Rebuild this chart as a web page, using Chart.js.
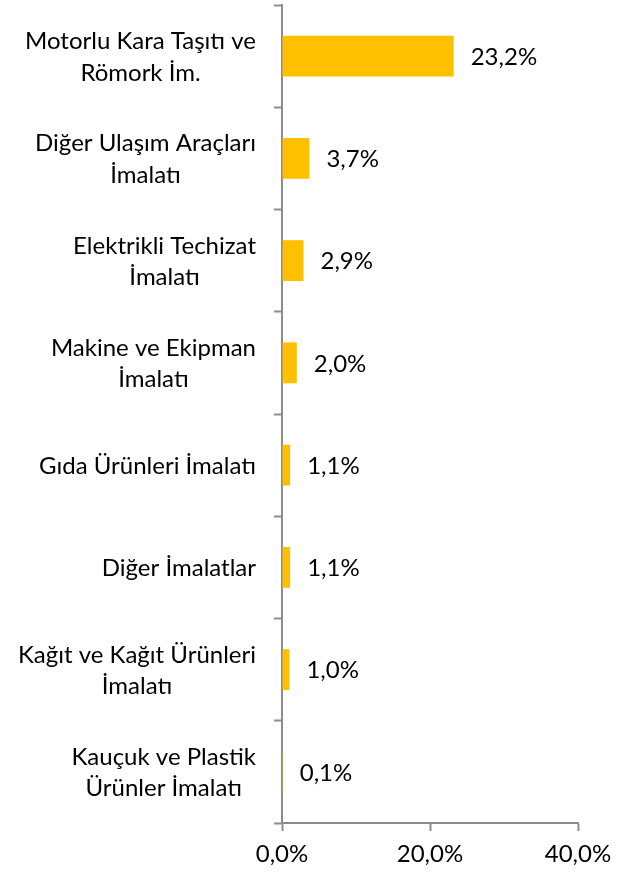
<!DOCTYPE html>
<html>
<head>
<meta charset="utf-8">
<style>
  html, body { margin: 0; padding: 0; background: #fff; }
  #wrap { width: 624px; height: 873px; }
</style>
<script src="https://cdn.jsdelivr.net/npm/chart.js@4/dist/chart.umd.min.js"></script>
</head>
<body>
<div id="wrap"><canvas id="myChart" width="624" height="873"></canvas></div>
<script>
// Sectors (top to bottom), each entry is the list of label lines
const sectors = [
    ['Motorlu Kara Taşıtı ve', 'Römork İm.'],
    ['Diğer Ulaşım Araçları', 'İmalatı'],
    ['Elektrikli Techizat', 'İmalatı'],
    ['Makine ve Ekipman', 'İmalatı'],
    ['Gıda Ürünleri İmalatı'],
    ['Diğer İmalatlar'],
    ['Kağıt ve Kağıt Ürünleri', 'İmalatı'],
    ['Kauçuk ve Plastik', 'Ürünler İmalatı']
];
// Share values in percent
const shares = [23.2, 3.7, 2.9, 2.0, 1.1, 1.1, 1.0, 0.1];
// X axis ticks
const xTicks = [0, 20, 40];

const FONT = 'Lato, "Open Sans", sans-serif';
const FONT_SIZE = 24;
const AXIS_GRAY = '#8c8c8c';

// Turkish style percent: 23,2%
function pct(v) {
    return v.toFixed(1).replace('.', ',') + '%';
}

// Draws the value next to the end of each bar
const valueLabels = {
    id: 'valueLabels',
    afterDatasetsDraw(chart) {
        const ctx = chart.ctx;
        const meta = chart.getDatasetMeta(0);
        ctx.save();
        ctx.font = FONT_SIZE + 'px ' + FONT;
        ctx.fillStyle = '#000';
        ctx.textAlign = 'left';
        ctx.textBaseline = 'middle';
        meta.data.forEach((bar, i) => {
            ctx.fillText(pct(shares[i]), bar.x + 17, bar.y + 1);
        });
        ctx.restore();
    }
};

// Category labels: lines centred on each other, block right aligned
const categoryLabels = {
    id: 'categoryLabels',
    afterDraw(chart) {
        const ctx = chart.ctx;
        const yScale = chart.scales.y;
        const rightEdge = 256;
        const lineH = 31.5;
        ctx.save();
        ctx.font = FONT_SIZE + 'px ' + FONT;
        ctx.fillStyle = '#000';
        ctx.textAlign = 'center';
        ctx.textBaseline = 'middle';
        sectors.forEach((lines, i) => {
            const y = yScale.getPixelForValue(i);
            const widest = Math.max(...lines.map(l => ctx.measureText(l).width));
            const cx = rightEdge - widest / 2;
            const y0 = y - (lines.length - 1) * lineH / 2;
            lines.forEach((l, j) => ctx.fillText(l, cx, y0 + j * lineH + 1));
        });
        ctx.restore();
    }
};

const ctx = document.getElementById('myChart').getContext('2d');
new Chart(ctx, {
    type: 'bar',
    data: {
        labels: sectors.map(s => s.join(' ')),
        datasets: [{
            data: shares,
            backgroundColor: '#FFC000',
            borderWidth: 0,
            categoryPercentage: 1,
            barPercentage: 0.4
        }]
    },
    options: {
        indexAxis: 'y',
        responsive: false,
        animation: false,
        layout: { padding: { top: 5, right: 46, bottom: 0, left: 0 } },
        plugins: {
            legend: { display: false },
            tooltip: { enabled: false }
        },
        scales: {
            x: {
                min: 0,
                max: 40,
                afterBuildTicks(scale) {
                    scale.ticks = xTicks.map(v => ({ value: v }));
                },
                afterFit(scale) {
                    scale.height = 50;
                    scale.paddingLeft = 0;
                    scale.paddingRight = 0;
                },
                grid: {
                    drawOnChartArea: false,
                    drawTicks: true,
                    tickLength: 8,
                    tickWidth: 2,
                    tickColor: AXIS_GRAY
                },
                border: { color: AXIS_GRAY, width: 2 },
                ticks: {
                    padding: 9,
                    color: '#000',
                    font: { family: FONT, size: FONT_SIZE },
                    maxRotation: 0,
                    callback: v => pct(v)
                }
            },
            y: {
                afterFit(scale) {
                    scale.width = 282;
                    scale.paddingTop = 0;
                    scale.paddingBottom = 0;
                },
                grid: {
                    offset: true,
                    drawOnChartArea: false,
                    drawTicks: true,
                    tickLength: 8,
                    tickWidth: 2,
                    tickColor: AXIS_GRAY
                },
                border: { color: AXIS_GRAY, width: 2 },
                ticks: { display: false }
            }
        }
    },
    plugins: [valueLabels, categoryLabels]
});
</script>
</body>
</html>
